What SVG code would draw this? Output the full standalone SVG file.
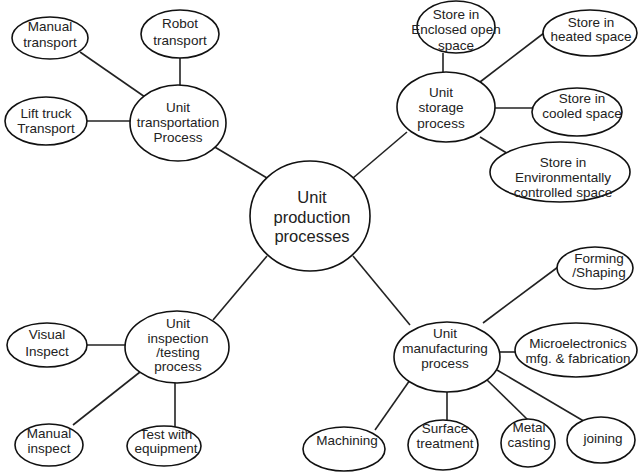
<svg xmlns="http://www.w3.org/2000/svg" width="639" height="474" viewBox="0 0 639 474">
<style>
.n{fill:#fff;stroke:#111;stroke-width:1.6}
.c line{stroke:#222;stroke-width:1.6}
text{font-family:"Liberation Sans",Arial,sans-serif;font-size:13.5px;fill:#222;text-anchor:middle}
.big{font-size:16.5px}
</style>
<rect width="639" height="474" fill="#fff"/>
<g class="c" id="connectors">
<line x1="80" y1="52" x2="145" y2="97"/>
<line x1="180" y1="58" x2="180" y2="85"/>
<line x1="87" y1="121" x2="130" y2="121"/>
<line x1="213" y1="146" x2="267" y2="178"/>
<line x1="443" y1="53" x2="443" y2="72"/>
<line x1="480" y1="82" x2="544" y2="33"/>
<line x1="495" y1="108" x2="533" y2="108"/>
<line x1="480" y1="137" x2="510" y2="155"/>
<line x1="407" y1="132" x2="353" y2="178"/>
<line x1="87" y1="345" x2="125" y2="345"/>
<line x1="73" y1="425" x2="140" y2="372"/>
<line x1="175" y1="383" x2="175" y2="427"/>
<line x1="213" y1="320" x2="267" y2="256"/>
<line x1="353" y1="256" x2="410" y2="325"/>
<line x1="483" y1="323" x2="558" y2="267"/>
<line x1="500" y1="352" x2="515" y2="352"/>
<line x1="375" y1="430" x2="410" y2="380"/>
<line x1="447" y1="390" x2="447" y2="420"/>
<line x1="485" y1="378" x2="530" y2="422"/>
<line x1="497" y1="370" x2="587" y2="423"/>
</g>
<g id="central"><ellipse class="n" cx="310" cy="216" rx="60" ry="55"/>
<text class="big" x="312" y="203">Unit</text><text class="big" x="312" y="223">production</text><text class="big" x="312" y="242">processes</text></g>
<g id="transportation"><ellipse class="n" cx="178" cy="123" rx="48" ry="38"/>
<text x="178" y="112">Unit</text><text x="178" y="127">transportation</text><text x="178" y="142">Process</text></g>
<g id="manual-transport"><ellipse class="n" cx="50" cy="38" rx="38" ry="21"/>
<text x="50" y="31">Manual</text><text x="50" y="47">transport</text></g>
<g id="robot-transport"><ellipse class="n" cx="180" cy="34" rx="39" ry="24"/>
<text x="180" y="28">Robot</text><text x="180" y="45">transport</text></g>
<g id="lift-truck"><ellipse class="n" cx="46" cy="121" rx="41" ry="24"/>
<text x="46" y="118">Lift truck</text><text x="46" y="133">Transport</text></g>
<g id="storage"><ellipse class="n" cx="446" cy="107" rx="49" ry="35"/>
<text x="441" y="97">Unit</text><text x="441" y="112">storage</text><text x="441" y="128">process</text></g>
<g id="enclosed"><ellipse class="n" cx="456" cy="27" rx="39" ry="26"/>
<text x="456" y="18.5">Store in</text><text x="456" y="34">Enclosed open</text><text x="456" y="49.5">space</text></g>
<g id="heated"><ellipse class="n" cx="590" cy="33" rx="47" ry="23"/>
<text x="591" y="27">Store in</text><text x="591" y="41">heated space</text></g>
<g id="cooled"><ellipse class="n" cx="577" cy="112" rx="45" ry="24"/>
<text x="582" y="103">Store in</text><text x="582" y="118">cooled space</text></g>
<g id="environment"><ellipse class="n" cx="560" cy="172" rx="70" ry="30"/>
<text x="563" y="167">Store in</text><text x="563" y="182">Environmentally</text><text x="563" y="197">controlled space</text></g>
<g id="inspection"><ellipse class="n" cx="177" cy="347" rx="52" ry="36"/>
<text x="178" y="328">Unit</text><text x="178" y="343">inspection</text><text x="178" y="357">/testing</text><text x="178" y="371">process</text></g>
<g id="visual"><ellipse class="n" cx="47" cy="345" rx="40" ry="22"/>
<text x="47" y="339">Visual</text><text x="47" y="356">Inspect</text></g>
<g id="manual-inspect"><ellipse class="n" cx="49" cy="445" rx="34" ry="21"/>
<text x="49" y="438">Manual</text><text x="49" y="453">inspect</text></g>
<g id="test-equipment"><ellipse class="n" cx="164" cy="446" rx="37" ry="20"/>
<text x="166" y="439">Test with</text><text x="166" y="453">equipment</text></g>
<g id="manufacturing"><ellipse class="n" cx="447" cy="357" rx="53" ry="35"/>
<text x="445" y="338">Unit</text><text x="445" y="353">manufacturing</text><text x="445" y="368">process</text></g>
<g id="forming"><ellipse class="n" cx="595" cy="268" rx="38" ry="21"/>
<text x="599" y="263">Forming</text><text x="599" y="277">/Shaping</text></g>
<g id="microelectronics"><ellipse class="n" cx="576" cy="350" rx="61" ry="27"/>
<text x="578" y="348">Microelectronics</text><text x="578" y="363">mfg. &amp; fabrication</text></g>
<g id="machining"><ellipse class="n" cx="344" cy="449" rx="41" ry="22"/>
<text x="347" y="445">Machining</text></g>
<g id="surface"><ellipse class="n" cx="443" cy="445" rx="35" ry="25"/>
<text x="445" y="433">Surface</text><text x="445" y="448">treatment</text></g>
<g id="metal"><ellipse class="n" cx="528" cy="443" rx="27" ry="24"/>
<text x="529" y="432">Metal</text><text x="529" y="447">casting</text></g>
<g id="joining"><ellipse class="n" cx="601" cy="440" rx="34" ry="23"/>
<text x="603" y="443">joining</text></g>
</svg>
